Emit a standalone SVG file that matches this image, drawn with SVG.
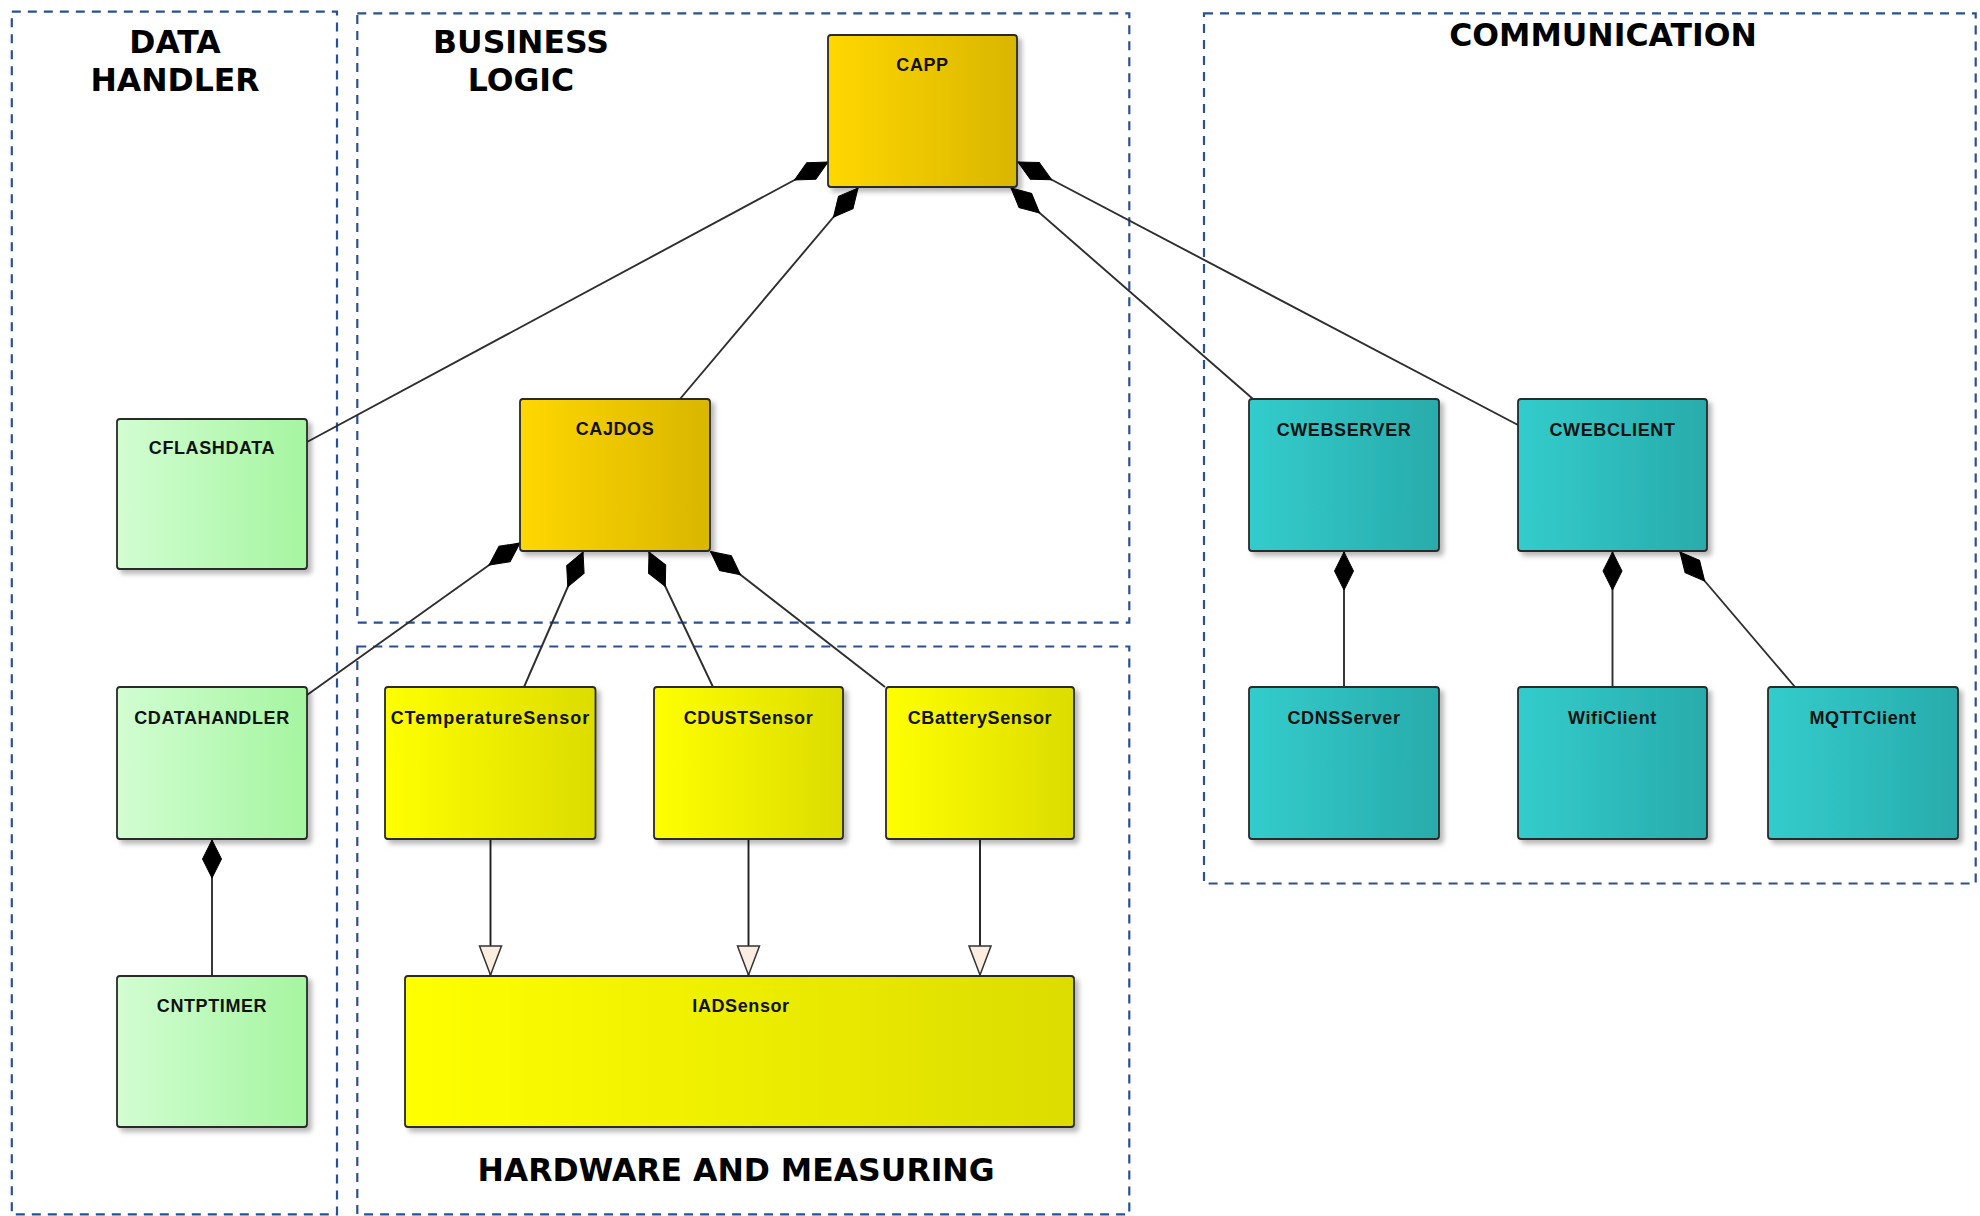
<svg xmlns="http://www.w3.org/2000/svg" width="1980" height="1216" viewBox="0 0 1980 1216">
  <style>
    .pkg { fill: none; stroke: #2c5190; stroke-width: 2.2; stroke-dasharray: 9 7; }
    .title { font-family: "DejaVu Sans", "Liberation Sans", sans-serif; font-weight: bold; font-size: 31.5px; fill: #000; text-anchor: middle; }
    .box { stroke: #2a2a2a; stroke-width: 1.8; filter: url(#shadow); }
    .lbl { font-family: "Liberation Sans", Arial, sans-serif; font-weight: bold; font-size: 18px; letter-spacing: 0.6px; fill: #111; text-anchor: middle; }
    .green { fill: url(#gGreen); }
    .gold { fill: url(#gGold); }
    .yellow { fill: url(#gYellow); }
    .teal { fill: url(#gTeal); }
    .comp { fill: none; stroke: #2e2e2e; stroke-width: 1.9; marker-end: url(#diamond); }
    .gen { fill: none; stroke: #1e1e1e; stroke-width: 1.9; marker-end: url(#triangle); }
  </style>
  <defs>
    <linearGradient id="gGreen" x1="0" y1="0" x2="1" y2="0">
      <stop offset="0" stop-color="#d2fdd2"/>
      <stop offset="1" stop-color="#a5f5a0"/>
    </linearGradient>
    <linearGradient id="gGold" x1="0" y1="0" x2="1" y2="0">
      <stop offset="0" stop-color="#ffd700"/>
      <stop offset="1" stop-color="#d9b600"/>
    </linearGradient>
    <linearGradient id="gYellow" x1="0" y1="0" x2="1" y2="0">
      <stop offset="0" stop-color="#ffff00"/>
      <stop offset="1" stop-color="#dcdc00"/>
    </linearGradient>
    <linearGradient id="gTeal" x1="0" y1="0" x2="1" y2="0">
      <stop offset="0" stop-color="#33cccc"/>
      <stop offset="1" stop-color="#29abab"/>
    </linearGradient>
    <filter id="shadow" x="-10%" y="-10%" width="130%" height="130%">
      <feDropShadow dx="4" dy="4" stdDeviation="2.5" flood-color="#000" flood-opacity="0.28"/>
    </filter>
    <!-- filled composition diamond, tip sits on the owning class -->
    <marker id="diamond" viewBox="-39 -12 41 24" refX="0" refY="0" markerWidth="41" markerHeight="24" markerUnits="userSpaceOnUse" orient="auto">
      <path d="M-38,0 L-19,-9.5 L0,0 L-19,9.5 Z" fill="#000" stroke="#000" stroke-width="1"/>
    </marker>
    <!-- hollow generalization triangle -->
    <marker id="triangle" viewBox="-31 -13 33 26" refX="0" refY="0" markerWidth="33" markerHeight="26" markerUnits="userSpaceOnUse" orient="auto">
      <path d="M-29,-11 L0,0 L-29,11 Z" fill="#fbeee0" stroke="#333" stroke-width="1.5"/>
    </marker>
  </defs>

  <rect width="1980" height="1216" fill="#fff"/>

  <!-- package frames -->
  <g id="packages">
    <rect class="pkg" x="11.8" y="11.7" width="325.2" height="1202.6"/>
    <rect class="pkg" x="357.3" y="13.3" width="772" height="609.4"/>
    <rect class="pkg" x="357.3" y="646.5" width="772" height="567.8"/>
    <rect class="pkg" x="1204" y="13.3" width="771.7" height="870.2"/>
    <text class="title" x="175" y="53">DATA</text>
    <text class="title" x="175" y="91">HANDLER</text>
    <text class="title" x="521" y="53">BUSINESS</text>
    <text class="title" x="521" y="91">LOGIC</text>
    <text class="title" x="1603" y="46">COMMUNICATION</text>
    <text class="title" x="736" y="1181">HARDWARE AND MEASURING</text>
  </g>

  <!-- connectors -->
  <g id="connectors">
    <line class="comp" x1="307" y1="442" x2="828" y2="162"/>
    <line class="comp" x1="680" y1="399" x2="858" y2="188"/>
    <line class="comp" x1="1253" y1="399" x2="1011" y2="188"/>
    <line class="comp" x1="1518" y1="425" x2="1018" y2="162"/>
    <line class="comp" x1="307" y1="695" x2="520" y2="543"/>
    <line class="comp" x1="524" y1="687" x2="583" y2="552"/>
    <line class="comp" x1="713" y1="687" x2="649" y2="552"/>
    <line class="comp" x1="885" y1="687" x2="710.5" y2="551.5"/>
    <line class="comp" x1="1344" y1="687" x2="1344" y2="552"/>
    <line class="comp" x1="1612.5" y1="687" x2="1612.5" y2="552"/>
    <line class="comp" x1="1795" y1="687" x2="1680" y2="552"/>
    <line class="comp" x1="212" y1="976" x2="212" y2="840"/>
    <line class="gen" x1="490.5" y1="840" x2="490.5" y2="975"/>
    <line class="gen" x1="748.5" y1="840" x2="748.5" y2="975"/>
    <line class="gen" x1="980" y1="840" x2="980" y2="975"/>
  </g>

  <!-- business logic -->
  <g id="CAPP">
    <rect class="box gold" x="828" y="35" width="189" height="152" rx="3"/>
    <text class="lbl" x="922.5" y="71">CAPP</text>
  </g>
  <g id="CAJDOS">
    <rect class="box gold" x="520" y="399" width="190" height="152" rx="3"/>
    <text class="lbl" x="615" y="435">CAJDOS</text>
  </g>

  <!-- data handler -->
  <g id="CFLASHDATA">
    <rect class="box green" x="117" y="419" width="190" height="150" rx="3"/>
    <text class="lbl" x="212" y="454">CFLASHDATA</text>
  </g>
  <g id="CDATAHANDLER">
    <rect class="box green" x="117" y="687" width="190" height="152" rx="3"/>
    <text class="lbl" x="212" y="724">CDATAHANDLER</text>
  </g>
  <g id="CNTPTIMER">
    <rect class="box green" x="117" y="976" width="190" height="151" rx="3"/>
    <text class="lbl" x="212" y="1012">CNTPTIMER</text>
  </g>

  <!-- hardware and measuring -->
  <g id="CTemperatureSensor">
    <rect class="box yellow" x="385" y="687" width="210.5" height="152" rx="3"/>
    <text class="lbl" x="490.5" y="724" style="letter-spacing:1px">CTemperatureSensor</text>
  </g>
  <g id="CDUSTSensor">
    <rect class="box yellow" x="654" y="687" width="189" height="152" rx="3"/>
    <text class="lbl" x="748.5" y="724">CDUSTSensor</text>
  </g>
  <g id="CBatterySensor">
    <rect class="box yellow" x="886" y="687" width="188" height="152" rx="3"/>
    <text class="lbl" x="980" y="724">CBatterySensor</text>
  </g>
  <g id="IADSensor">
    <rect class="box yellow" x="405" y="976" width="669" height="151" rx="3"/>
    <text class="lbl" x="741" y="1012">IADSensor</text>
  </g>

  <!-- communication -->
  <g id="CWEBSERVER">
    <rect class="box teal" x="1249" y="399" width="190" height="152" rx="3"/>
    <text class="lbl" x="1344" y="436">CWEBSERVER</text>
  </g>
  <g id="CWEBCLIENT">
    <rect class="box teal" x="1518" y="399" width="189" height="152" rx="3"/>
    <text class="lbl" x="1612.5" y="436">CWEBCLIENT</text>
  </g>
  <g id="CDNSServer">
    <rect class="box teal" x="1249" y="687" width="190" height="152" rx="3"/>
    <text class="lbl" x="1344" y="724">CDNSServer</text>
  </g>
  <g id="WifiClient">
    <rect class="box teal" x="1518" y="687" width="189" height="152" rx="3"/>
    <text class="lbl" x="1612.5" y="724">WifiClient</text>
  </g>
  <g id="MQTTClient">
    <rect class="box teal" x="1768" y="687" width="190" height="152" rx="3"/>
    <text class="lbl" x="1863" y="724">MQTTClient</text>
  </g>
</svg>
